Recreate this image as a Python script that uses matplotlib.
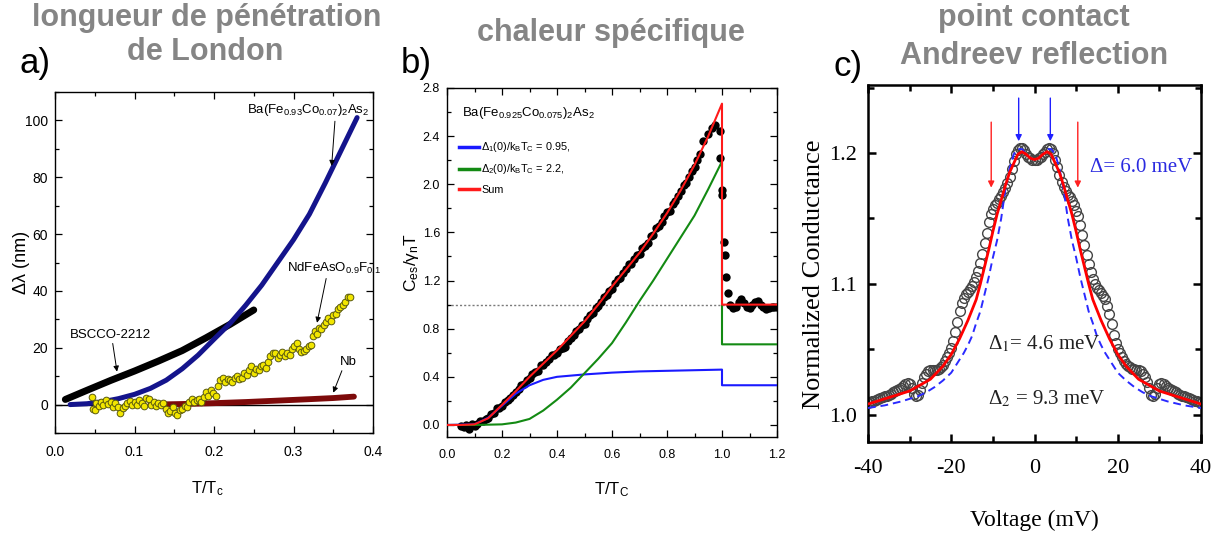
import matplotlib
matplotlib.use('Agg')
import matplotlib.pyplot as plt
from matplotlib import font_manager
from matplotlib.ticker import MultipleLocator

names = {f.name for f in font_manager.fontManager.ttflist}
NARROW = 'Liberation Sans Narrow' in names
SANS = 'Liberation Sans Narrow' if NARROW else 'Liberation Sans'
SERIF = 'Liberation Serif'
K = 1.0 if NARROW else 0.85

plt.rcParams['font.family'] = [SANS, 'DejaVu Sans']
plt.rcParams['mathtext.fontset'] = 'custom'
plt.rcParams['mathtext.rm'] = SANS
plt.rcParams['mathtext.it'] = SANS + ':italic'
plt.rcParams['mathtext.bf'] = SANS + ':bold'
plt.rcParams['axes.unicode_minus'] = False

# ---------------- data: panel a ----------------
ba_x = [0.019, 0.04, 0.06, 0.08, 0.10, 0.12, 0.14, 0.16, 0.18, 0.20, 0.22, 0.24,
        0.26, 0.28, 0.30, 0.32, 0.34, 0.36, 0.38]
ba_y = [0.0, 0.3, 1.0, 2.1, 3.6, 5.7, 8.6, 12.6, 17.4, 23.0, 28.5, 35.0,
        42.0, 50.0, 58.0, 67.0, 78.0, 89.5, 101.0]
bscco_x = [0.013, 0.04, 0.07, 0.10, 0.13, 0.16, 0.19, 0.22, 0.25]
bscco_y = [1.8, 5.0, 8.5, 11.8, 15.3, 19.0, 23.5, 28.2, 33.3]
nb_x = [0.12, 0.16, 0.20, 0.24, 0.28, 0.32, 0.35, 0.376]
nb_y = [0.0, 0.2, 0.5, 0.9, 1.4, 1.9, 2.3, 2.8]
nd_x = [0.046, 0.048, 0.050, 0.052, 0.055, 0.058, 0.061, 0.064, 0.067, 0.070,
        0.073, 0.076, 0.079, 0.082, 0.085, 0.088, 0.091, 0.094, 0.097, 0.100,
        0.103, 0.106, 0.109, 0.112, 0.115, 0.118, 0.121, 0.124, 0.127, 0.130,
        0.133, 0.136, 0.139, 0.142, 0.145, 0.148, 0.151, 0.154, 0.157, 0.160,
        0.163, 0.166, 0.169, 0.172, 0.175, 0.178, 0.181, 0.184, 0.187, 0.190,
        0.193, 0.196, 0.199, 0.202, 0.205, 0.208, 0.211, 0.214, 0.217, 0.220,
        0.223, 0.226, 0.229, 0.232, 0.235, 0.238, 0.241, 0.244, 0.247, 0.250,
        0.253, 0.256, 0.259, 0.262, 0.265, 0.268, 0.271, 0.274, 0.277, 0.280,
        0.283, 0.286, 0.289, 0.292, 0.295, 0.298, 0.301, 0.304, 0.307, 0.310,
        0.313, 0.316, 0.319, 0.322, 0.325, 0.327, 0.329, 0.332, 0.335, 0.338,
        0.341, 0.344, 0.347, 0.350, 0.353, 0.356, 0.359, 0.362, 0.365, 0.368, 0.371]
nd_y = [2.5, -1.5, -2.0, 0.5, -0.5, 0.8, 0.0, 1.5, 0.3, 1.0,
        -0.8, 0.5, -1.0, -2.8, -1.2, -0.5, 0.5, 1.2, 0.0, 0.8,
        -0.3, 1.5, 0.5, -0.5, 2.2, 1.8, 0.0, 0.8, -0.6, 0.4,
        -0.2, 0.6, -1.5, -3.0, -2.2, -1.0, -2.8, -3.5, -2.0, -1.5,
        -0.5, -1.0, 1.0, 2.0, 1.0, 1.5, 2.0, 1.0, 2.5, 4.5,
        3.0, 5.0, 4.0, 3.0, 6.5, 8.5, 9.5, 8.0, 9.0, 8.5,
        8.0, 9.5, 10.0, 9.0, 9.5, 11.0, 10.5, 12.0, 13.5, 11.0,
        12.5, 12.0, 13.5, 14.0, 13.0, 15.0, 17.0, 18.0, 18.0, 16.5,
        17.5, 18.5, 17.0, 18.0, 17.5, 19.5, 20.5, 21.5, 19.5, 18.5,
        19.0, 19.5, 20.5, 21.0, 24.0, 26.0, 25.0, 27.0, 26.5, 28.0,
        29.0, 30.5, 29.5, 31.5, 32.0, 33.5, 34.5, 35.0, 36.0, 38.0, 38.0]

# ---------------- data: panel b ----------------
sum_x = [0.0, 0.05, 0.10, 0.15, 0.20, 0.25, 0.30, 0.35, 0.40, 0.45, 0.50, 0.55, 0.60,
         0.65, 0.70, 0.75, 0.80, 0.85, 0.90, 0.95, 1.0, 1.0, 1.2]
sum_y = [0.0, 0.0, 0.005, 0.056, 0.167, 0.28, 0.40, 0.51, 0.62, 0.74, 0.86, 1.00, 1.15,
         1.29, 1.43, 1.59, 1.76, 1.95, 2.16, 2.40, 2.67, 1.00, 1.00]
g2_x = [0.0, 0.10, 0.20, 0.25, 0.30, 0.35, 0.40, 0.45, 0.50, 0.55, 0.60, 0.65, 0.70,
        0.75, 0.80, 0.85, 0.90, 0.95, 1.0, 1.0, 1.2]
g2_y = [0.0, 0.0, 0.005, 0.02, 0.05, 0.12, 0.21, 0.31, 0.43, 0.55, 0.68, 0.85, 1.03,
        1.20, 1.38, 1.56, 1.74, 1.96, 2.19, 0.67, 0.67]
g1_x = [0.0, 0.10, 0.15, 0.20, 0.25, 0.30, 0.35, 0.40, 0.50, 0.60, 0.70, 0.80, 0.90,
        1.0, 1.0, 1.2]
g1_y = [0.0, 0.005, 0.06, 0.16, 0.26, 0.33, 0.375, 0.40, 0.42, 0.435, 0.445, 0.45, 0.455,
        0.46, 0.33, 0.33]
cp_x = [0.05, 0.06, 0.07, 0.08, 0.09, 0.10, 0.11, 0.12, 0.13, 0.14, 0.15, 0.16, 0.17,
        0.18, 0.19, 0.20, 0.21, 0.22, 0.23, 0.24, 0.25, 0.26, 0.27, 0.28, 0.29, 0.30,
        0.31, 0.32, 0.33, 0.34, 0.35, 0.36, 0.37, 0.38, 0.39, 0.40, 0.41, 0.42, 0.43,
        0.44, 0.45, 0.46, 0.47, 0.48, 0.49, 0.50, 0.51, 0.52, 0.53, 0.54, 0.55, 0.56,
        0.57, 0.58, 0.59, 0.60, 0.61, 0.62, 0.63, 0.64, 0.65, 0.66, 0.67, 0.68, 0.69,
        0.70, 0.71, 0.72, 0.73, 0.74, 0.75, 0.76, 0.77, 0.78, 0.79, 0.80, 0.81, 0.82,
        0.83, 0.84, 0.85, 0.86, 0.87, 0.88, 0.89, 0.90, 0.91, 0.92, 0.932, 0.95, 0.965,
        0.975, 0.993, 0.993, 0.999, 1.0, 1.008, 1.011, 1.013, 1.02, 1.03, 1.04, 1.05,
        1.06, 1.07, 1.08, 1.09, 1.10, 1.11, 1.12, 1.13, 1.14, 1.15, 1.16, 1.17, 1.18,
        1.19, 1.20]
cp_y = [-0.01, -0.02, 0.00, -0.03, 0.01, -0.01, 0.01, 0.03, 0.03, 0.05, 0.06, 0.09, 0.10,
        0.14, 0.14, 0.16, 0.19, 0.21, 0.22, 0.25, 0.27, 0.30, 0.33, 0.34, 0.37, 0.39,
        0.42, 0.44, 0.45, 0.50, 0.50, 0.52, 0.55, 0.58, 0.58, 0.60, 0.63, 0.64, 0.65,
        0.70, 0.72, 0.75, 0.78, 0.80, 0.83, 0.84, 0.88, 0.91, 0.93, 0.97, 0.99, 1.02,
        1.06, 1.08, 1.11, 1.13, 1.18, 1.21, 1.22, 1.26, 1.30, 1.34, 1.34, 1.38, 1.41,
        1.42, 1.47, 1.49, 1.51, 1.57, 1.58, 1.64, 1.65, 1.69, 1.74, 1.77, 1.78, 1.84,
        1.86, 1.90, 1.94, 1.99, 2.01, 2.06, 2.11, 2.14, 2.20, 2.25, 2.36, 2.42, 2.47,
        2.49, 2.44, 2.22, 1.95, 1.91, 1.52, 1.41, 1.23, 1.10, 1.00, 0.975, 0.98,
        1.02, 1.045, 1.01, 0.98, 0.975, 1.00, 1.02, 1.03, 1.00, 0.98, 0.96, 0.97, 0.98,
        0.98, 0.98]

# ---------------- data: panel c ----------------
volt = [k / 2 for k in range(-80, 81)]
cond = [1.009, 1.0095, 1.010, 1.0105, 1.011, 1.012, 1.013, 1.0135, 1.014, 1.0145,
        1.015, 1.016, 1.017, 1.018, 1.019, 1.0195, 1.020, 1.022, 1.0235, 1.024,
        1.023, 1.020, 1.016, 1.014, 1.015, 1.019, 1.024, 1.029, 1.031, 1.033,
        1.034, 1.034, 1.034, 1.034, 1.035, 1.036, 1.038, 1.041, 1.044, 1.047,
        1.051, 1.056, 1.063, 1.071, 1.079, 1.085, 1.089, 1.092, 1.094, 1.096,
        1.098, 1.101, 1.105, 1.110, 1.116, 1.123, 1.131, 1.139, 1.147, 1.153,
        1.157, 1.160, 1.162, 1.165, 1.167, 1.170, 1.173, 1.177, 1.182, 1.188,
        1.194, 1.199, 1.202, 1.204, 1.204, 1.202, 1.199, 1.197, 1.196, 1.195,
        1.195,
        1.195, 1.196, 1.197, 1.199, 1.201, 1.203, 1.204, 1.203, 1.200, 1.195,
        1.189, 1.183, 1.178, 1.174, 1.171, 1.168, 1.166, 1.163, 1.160, 1.156,
        1.152, 1.145, 1.137, 1.130, 1.122, 1.115, 1.109, 1.104, 1.100, 1.097,
        1.095, 1.093, 1.091, 1.088, 1.083, 1.077, 1.069, 1.061, 1.055, 1.050,
        1.047, 1.044, 1.041, 1.039, 1.037, 1.036, 1.035, 1.035, 1.034, 1.034,
        1.033, 1.031, 1.029, 1.025, 1.020, 1.015, 1.014, 1.016, 1.020, 1.023,
        1.024, 1.023, 1.022, 1.020, 1.0195, 1.019, 1.018, 1.017, 1.016, 1.015,
        1.0145, 1.014, 1.0135, 1.013, 1.012, 1.011, 1.0105, 1.010, 1.0095, 1.009]
fit_v = [-40, -35, -30, -25, -22, -20, -18, -16, -14, -13, -12, -11, -10, -9, -8, -7, -6,
         -5, -4, -3, -2, -1, 0, 1, 2, 3, 4, 5, 6, 7, 8, 9, 10, 11, 12, 13, 14, 16, 18,
         20, 22, 25, 30, 35, 40]
fit_g = [1.008, 1.013, 1.018, 1.027, 1.037, 1.046, 1.058, 1.072, 1.088, 1.100, 1.113,
         1.126, 1.140, 1.153, 1.164, 1.175, 1.185, 1.192, 1.199, 1.201, 1.199, 1.196,
         1.195, 1.196, 1.199, 1.201, 1.199, 1.192, 1.185, 1.175, 1.164, 1.153, 1.140,
         1.126, 1.113, 1.100, 1.088, 1.072, 1.058, 1.046, 1.037, 1.027, 1.018, 1.013, 1.008]
one_v = [-40, -36, -32, -28, -26, -24, -22, -20, -18, -17, -16, -15, -14, -13, -12, -11,
         -10, -9, -8, -7, -6, -5, -4, -3, -2, -1, 0, 1, 2, 3, 4, 5, 6, 7, 8, 9, 10, 11,
         12, 13, 14, 15, 16, 17, 18, 20, 22, 24, 26, 28, 32, 36, 40]
one_g = [1.005, 1.007, 1.010, 1.014, 1.017, 1.021, 1.026, 1.032, 1.042, 1.047, 1.053,
         1.060, 1.070, 1.079, 1.092, 1.105, 1.120, 1.133, 1.150, 1.172, 1.188, 1.199,
         1.203, 1.203, 1.199, 1.196, 1.195, 1.196, 1.199, 1.203, 1.203, 1.199, 1.188,
         1.172, 1.150, 1.133, 1.120, 1.105, 1.092, 1.079, 1.070, 1.060, 1.053, 1.047,
         1.042, 1.032, 1.026, 1.021, 1.017, 1.014, 1.010, 1.007, 1.005]
blue_arrows = [-3.8, 3.8]
red_arrows = [-10.4, 10.4]

W, H = 1217, 538
fig = plt.figure(figsize=(W / 100, H / 100), dpi=100)


def axes_px(l, t, r, b):
    return fig.add_axes([l / W, (H - b) / H, (r - l) / W, (b - t) / H])


def ftext(x, y, s, **kw):
    fig.text(x / W, 1 - y / H, s, ha='center', va='center', **kw)


TITLE = dict(fontsize=22, fontweight='bold', color='#858585', family='Liberation Sans')
ftext(207, 18, 'longueur de pénétration', **TITLE)
ftext(205, 52, 'de London', **TITLE)
ftext(611, 33, 'chaleur spécifique', **TITLE)
ftext(1034, 18, 'point contact', **TITLE)
ftext(1034, 56, 'Andreev reflection', **TITLE)
LBL = dict(fontsize=25, color='black', family='Liberation Sans')
ftext(35, 64, 'a)', **LBL)
ftext(416, 64, 'b)', **LBL)
ftext(848, 66, 'c)', **LBL)

# ---------------- panel a ----------------
ax = axes_px(55, 92, 373, 433)
ax.axhline(0, color='black', lw=1.0, zorder=1)
ax.plot(bscco_x, bscco_y, color='black', lw=5, solid_capstyle='round', zorder=3)
ax.plot(ba_x, ba_y, color='#14148c', lw=3.6, solid_capstyle='round', zorder=3)
ax.plot(nd_x, nd_y, 'o', ms=4.8, mfc='#f2e600', mec='#5a5a10', mew=0.7, zorder=4)
ax.plot(nb_x, nb_y, color='#7d0a0a', lw=4.2, solid_capstyle='round', zorder=3)
ax.set_xlim(0, 0.4)
ax.set_ylim(-10, 110)
ax.xaxis.set_major_locator(MultipleLocator(0.1))
ax.xaxis.set_minor_locator(MultipleLocator(0.05))
ax.yaxis.set_major_locator(MultipleLocator(20))
ax.yaxis.set_minor_locator(MultipleLocator(10))
ax.xaxis.set_major_formatter(plt.FuncFormatter(lambda v, p: f'{v:.1f}'))
ax.tick_params(which='both', direction='in', top=True, right=True, labelsize=10, width=0.9)
ax.tick_params(which='major', length=5)
ax.tick_params(which='minor', length=3)
ax.tick_params(axis='x', which='major', pad=9)
ax.tick_params(axis='y', which='major', pad=5)
for s in ax.spines.values():
    s.set_linewidth(1.0)
ax.set_ylabel('Δλ (nm)', fontsize=13)
ax.yaxis.set_label_coords(-0.08, 0.5)
ax.set_xlabel('T/T$_\\mathrm{c}$', fontsize=12)
ax.xaxis.set_label_coords(0.48, -0.135)
AFS = 9.5
ax.annotate('Ba(Fe$_{0.93}$Co$_{0.07}$)$_2$As$_2$', xy=(0.348, 84), xytext=(0.2415, 103.5),
            fontsize=AFS, va='center', ha='left',
            arrowprops=dict(arrowstyle='-|>', lw=0.7, color='black', mutation_scale=8,
                            shrinkA=0, shrinkB=0, relpos=(0.72, 0.0)))
ax.annotate('NdFeAsO$_{0.9}$F$_{0.1}$', xy=(0.3296, 28.8), xytext=(0.292, 48),
            fontsize=AFS, va='center', ha='left',
            arrowprops=dict(arrowstyle='-|>', lw=0.7, color='black', mutation_scale=8,
                            shrinkA=0, shrinkB=0, relpos=(0.42, 0.0)))
ax.annotate('BSCCO-2212', xy=(0.078, 11.6), xytext=(0.019, 24.6),
            fontsize=AFS, va='center', ha='left',
            arrowprops=dict(arrowstyle='-|>', lw=0.7, color='black', mutation_scale=8,
                            shrinkA=0, shrinkB=0, relpos=(0.52, 0.0)))
ax.annotate('Nb', xy=(0.35, 4.2), xytext=(0.358, 15),
            fontsize=AFS, va='center', ha='left',
            arrowprops=dict(arrowstyle='-|>', lw=0.7, color='black', mutation_scale=8,
                            shrinkA=0, shrinkB=0, relpos=(0.2, 0.0)))

# ---------------- panel b ----------------
bx = axes_px(447, 88, 777, 437)
bx.axhline(1.0, color='#7a7a7a', lw=1.0, ls=(0, (1.5, 1.5)), zorder=1)
bx.plot(cp_x, cp_y, 'o', ms=6, color='black', mew=0, zorder=3)
l1, = bx.plot(g1_x, g1_y, color='#1a1aff', lw=1.5, zorder=4)
l2, = bx.plot(g2_x, g2_y, color='#138a13', lw=1.5, zorder=4)
l3, = bx.plot(sum_x, sum_y, color='#ff1a1a', lw=1.5, zorder=5)
bx.set_xlim(0, 1.2)
bx.set_ylim(-0.1, 2.8)
bx.xaxis.set_major_locator(MultipleLocator(0.2))
bx.xaxis.set_minor_locator(MultipleLocator(0.1))
bx.yaxis.set_major_locator(MultipleLocator(0.4))
bx.yaxis.set_minor_locator(MultipleLocator(0.2))
bx.xaxis.set_major_formatter(plt.FuncFormatter(lambda v, p: f'{v:.1f}'))
bx.yaxis.set_major_formatter(plt.FuncFormatter(lambda v, p: f'{v:.1f}'))
bx.tick_params(which='both', direction='in', top=True, right=True, labelsize=9, width=0.9)
bx.tick_params(which='major', length=5)
bx.tick_params(which='minor', length=3)
bx.tick_params(axis='x', which='major', pad=9)
bx.tick_params(axis='y', which='major', pad=5)
for s in bx.spines.values():
    s.set_linewidth(1.0)
bx.set_ylabel('C$_\\mathrm{es}$/γ$_\\mathrm{n}$T', fontsize=12.5)
bx.yaxis.set_label_coords(-0.078, 0.5)
bx.set_xlabel('T/T$_\\mathrm{C}$', fontsize=12)
bx.xaxis.set_label_coords(0.5, -0.125)
bx.text(0.0545, 2.59, 'Ba(Fe$_{0.925}$Co$_{0.075}$)$_2$As$_2$', fontsize=9.5, va='center', ha='left')
leg = bx.legend([l1, l2, l3],
                ['Δ$_1$(0)/k$_\\mathrm{B}$T$_\\mathrm{C}$ = 0.95,',
                 'Δ$_2$(0)/k$_\\mathrm{B}$T$_\\mathrm{C}$ = 2.2,',
                 'Sum'],
                loc='upper left', bbox_to_anchor=(0.035, 0.85), frameon=False,
                borderaxespad=0, borderpad=0, handlelength=1.9, handletextpad=0.2,
                labelspacing=0.75, fontsize=7.8)
for h in leg.legend_handles:
    h.set_linewidth(2.5)

# ---------------- panel c ----------------
cx = axes_px(868, 85, 1201, 442)
cx.plot(volt, cond, 'o', ms=7, mfc='none', mec='#454545', mew=1.0, zorder=2)
cx.plot(one_v, one_g, color='#2a2aff', lw=1.4, ls=(0, (4, 2.5)), zorder=3)
cx.plot(fit_v, fit_g, color='#ff0000', lw=2.0, zorder=4)
for v in blue_arrows:
    cx.annotate('', xy=(v, 1.209), xytext=(v, 1.242),
                arrowprops=dict(arrowstyle='-|>', color='#2020ff', lw=1.0, mutation_scale=9,
                                shrinkA=0, shrinkB=0))
for v in red_arrows:
    cx.annotate('', xy=(v, 1.1735), xytext=(v, 1.2236),
                arrowprops=dict(arrowstyle='-|>', color='#ff2020', lw=1.0, mutation_scale=9,
                                shrinkA=0, shrinkB=0))
cx.set_xlim(-40, 40)
cx.set_ylim(0.979, 1.252)
cx.xaxis.set_major_locator(MultipleLocator(20))
cx.xaxis.set_minor_locator(MultipleLocator(10))
cx.yaxis.set_major_locator(MultipleLocator(0.1))
cx.yaxis.set_minor_locator(MultipleLocator(0.05))
cx.yaxis.set_major_formatter(plt.FuncFormatter(lambda v, p: f'{v:.1f}'))
cx.tick_params(which='both', direction='in', top=True, right=True, labelsize=16,
               labelfontfamily=SERIF, width=1.8)
cx.tick_params(which='major', length=6)
cx.tick_params(which='minor', length=4)
cx.tick_params(axis='x', which='major', pad=12)
cx.tick_params(axis='y', which='major', pad=8)
for s in cx.spines.values():
    s.set_linewidth(1.8)
cx.set_ylabel('Normalized Conductance', fontsize=19, family=SERIF)
cx.yaxis.set_label_coords(-0.128, 0.47)
cx.set_xlabel('Voltage (mV)', fontsize=17, family=SERIF)
cx.xaxis.set_label_coords(0.5, -0.19)
cx.text(0.975, 0.77, 'Δ= 6.0 meV', transform=cx.transAxes, fontsize=15, family=SERIF,
        color='#2a2ae0', ha='right', va='center', math_fontfamily='stix')
cx.text(0.36, 0.275, 'Δ$_1$= 4.6 meV', transform=cx.transAxes, fontsize=15, family=SERIF,
        color='#202020', ha='left', va='center', math_fontfamily='stix')
cx.text(0.36, 0.12, 'Δ$_2$ = 9.3 meV', transform=cx.transAxes, fontsize=15, family=SERIF,
        color='#202020', ha='left', va='center', math_fontfamily='stix')

fig.savefig('out.png', dpi=100)
